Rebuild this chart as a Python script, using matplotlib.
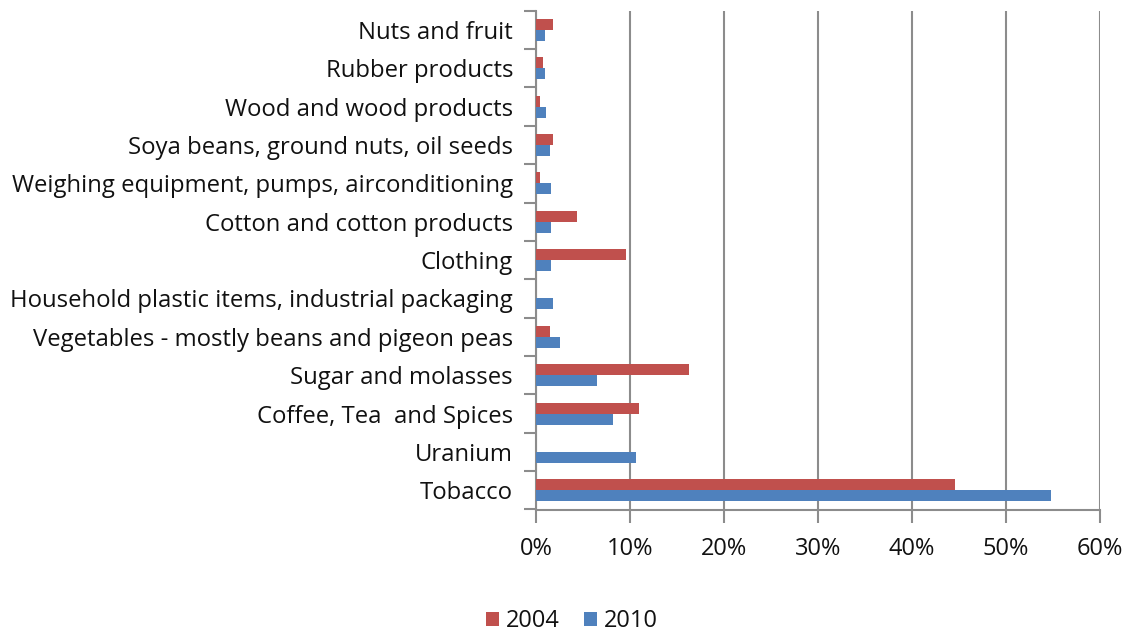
import matplotlib
matplotlib.use("Agg")
import matplotlib.pyplot as plt
import numpy as np
from matplotlib.ticker import FixedLocator, PercentFormatter

categories = [
    "Nuts and fruit",
    "Rubber products",
    "Wood and wood products",
    "Soya beans, ground nuts, oil seeds",
    "Weighing equipment, pumps, airconditioning",
    "Cotton and cotton products",
    "Clothing",
    "Household plastic items, industrial packaging",
    "Vegetables - mostly beans and pigeon peas",
    "Sugar and molasses",
    "Coffee, Tea  and Spices",
    "Uranium",
    "Tobacco",
]
values_2004 = [1.8, 0.75, 0.4, 1.8, 0.4, 4.4, 9.6, 0.0, 1.45, 16.3, 11.0, 0.0, 44.6]
values_2010 = [0.95, 0.95, 1.1, 1.45, 1.6, 1.6, 1.6, 1.8, 2.5, 6.5, 8.2, 10.6, 54.8]
x_ticks = [0, 10, 20, 30, 40, 50, 60]

plt.rcParams['font.family'] = ['Open Sans', 'DejaVu Sans']

fig = plt.figure(figsize=(11.27, 6.35), dpi=100)
ax = fig.add_axes([536/1127, 1 - 509.5/635, (1100 - 536)/1127, (509.5 - 10.7)/635])

n = len(categories)
pos = np.arange(n)[::-1]  # first category at top
h = 0.286
ax.barh(pos + h/2, values_2004, height=h, color='#C0504D', label='2004', zorder=3)
ax.barh(pos - h/2, values_2010, height=h, color='#4F81BD', label='2010', zorder=3)

ax.set_xlim(0, 60)
ax.set_ylim(-0.5, n - 0.5)
ax.xaxis.set_major_locator(FixedLocator(x_ticks))
ax.xaxis.set_major_formatter(PercentFormatter(decimals=0))
ax.set_yticks(pos)
ax.set_yticklabels(categories)
ax.set_yticks(np.arange(n + 1) - 0.5, minor=True)
ax.tick_params(axis='y', which='major', length=0, pad=16.5, labelsize=17.2, colors='#111111')
ax.tick_params(axis='y', which='minor', length=9, width=1.5, color='#8c8c8c')
ax.tick_params(axis='x', which='major', length=9, width=1.5, color='#8c8c8c', labelsize=17,
               labelcolor='#111111', pad=11)

ax.grid(axis='x', color='#8c8c8c', linewidth=1.5, zorder=0)
for s in ['top', 'right']:
    ax.spines[s].set_visible(False)
for s in ['left', 'bottom']:
    ax.spines[s].set_color('#8c8c8c')
    ax.spines[s].set_linewidth(1.5)

leg = ax.legend(loc='center', bbox_to_anchor=(572/1127, 1 - 621/635), bbox_transform=fig.transFigure,
                ncol=2, frameon=False, fontsize=17, handlelength=0.55, handleheight=0.55,
                handletextpad=0.3, columnspacing=1.0)
for t in leg.get_texts():
    t.set_color('#111111')

fig.savefig('out.png', dpi=100)
